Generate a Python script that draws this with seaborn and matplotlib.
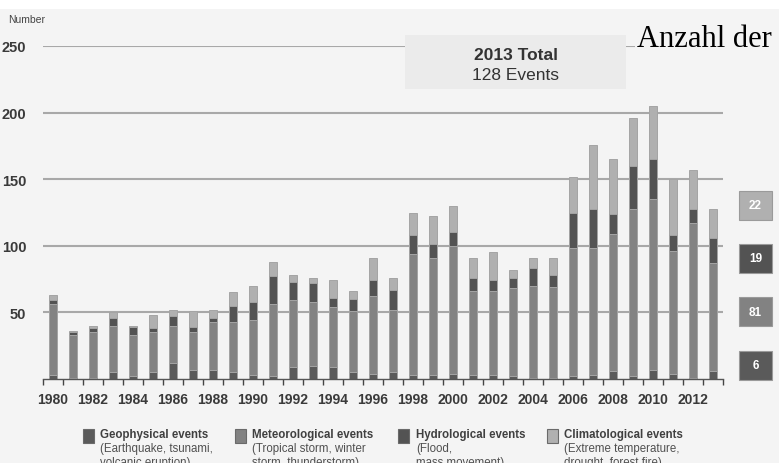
import numpy as np
import pandas as pd
import matplotlib
matplotlib.use("Agg")
import matplotlib.pyplot as plt
import seaborn as sns
from matplotlib.patches import Rectangle

# ---------------- data ----------------
years = list(range(1980, 2014))
geophysical = [3, 1, 1, 5, 2, 5, 12, 7, 7, 5,
               3, 2, 9, 10, 9, 5, 4, 5, 3, 3,
               4, 3, 3, 2, 1, 1, 2, 3, 6, 2,
               7, 4, 1, 6]
meteorological = [53, 32, 34, 35, 31, 30, 28, 28, 36, 38,
                  41, 54, 50, 48, 45, 46, 58, 47, 91, 88,
                  96, 63, 63, 66, 69, 68, 96, 95, 103, 126,
                  128, 92, 116, 81]
hydrological = [3, 2, 3, 6, 6, 3, 7, 4, 3, 12,
                14, 21, 14, 14, 7, 9, 12, 15, 14, 10,
                10, 10, 8, 8, 13, 9, 27, 30, 15, 32,
                30, 12, 11, 19]
climatological = [4, 1, 2, 4, 1, 10, 5, 12, 6, 10,
                  12, 11, 5, 4, 13, 6, 17, 9, 17, 21,
                  20, 15, 21, 6, 8, 13, 27, 48, 41, 36,
                  40, 42, 29, 22]
tick_years = [str(y) for y in range(1980, 2013, 2)]
y_ticks = [50, 100, 150, 200, 250]
box_values = ["22", "19", "81", "6"]
legend_titles = ["Geophysical events", "Meteorological events",
                 "Hydrological events", "Climatological events"]
legend_desc1 = ["(Earthquake, tsunami,", "(Tropical storm, winter",
                "(Flood,", "(Extreme temperature,"]
legend_desc2 = ["volcanic eruption)", "storm, thunderstorm)",
                "mass movement)", "drought, forest fire)"]

# ---------------- style ----------------
plt.rcParams['font.family'] = ['Liberation Sans', 'DejaVu Sans']
BG = '#f4f4f4'
c_geo = '#5a5a5a'
c_met = '#828282'
c_hyd = '#535353'
c_cli = '#b0b0b0'

W, H = 779, 464
fig = plt.figure(figsize=(W / 100, H / 100), dpi=100, facecolor=BG)


def fx(px):
    return px / W


def fy(py):
    return 1 - py / H


ax = fig.add_axes([fx(43), fy(380), fx(723) - fx(43), fy(47) - fy(380)])
ax.set_facecolor(BG)

df = pd.DataFrame({
    'year': [str(y) for y in years],
    'geo': geophysical,
    'met': meteorological,
    'hyd': hydrological,
    'cli': climatological,
})
df['s1'] = df['geo']
df['s2'] = df['s1'] + df['met']
df['s3'] = df['s2'] + df['hyd']
df['s4'] = df['s3'] + df['cli']

for col, color in [('s4', c_cli), ('s3', c_hyd), ('s2', c_met), ('s1', c_geo)]:
    sns.barplot(data=df, x='year', y=col, color=color, saturation=1,
                width=0.38, edgecolor='#a4a4a4', linewidth=0.7,
                errorbar=None, ax=ax, zorder=3)

ax.set_xlim(-0.5, 33.5)
ax.set_ylim(0, 250)
ax.set_xlabel('')
ax.set_ylabel('')

ax.set_xticks(np.arange(0, 34, 2))
ax.set_xticklabels(tick_years, fontsize=10, fontweight='bold', color='#3a3a3a')
ax.set_xticks(np.arange(-0.5, 34, 1), minor=True)
ax.tick_params(axis='x', which='major', length=0, pad=9)
ax.tick_params(axis='x', which='minor', length=4, width=1, color='#444444', direction='out')

ax.set_yticks(y_ticks)
ax.set_yticklabels([str(v) for v in y_ticks], fontsize=10.5, fontweight='bold', color='#3a3a3a')
ax.tick_params(axis='y', length=0, pad=12)
ax.yaxis.grid(True, color='#a8a8a8', linewidth=1.5)
ax.xaxis.grid(False)
ax.set_axisbelow(True)

for s in ['top', 'right', 'left']:
    ax.spines[s].set_visible(False)
ax.spines['bottom'].set_color('#555555')
ax.spines['bottom'].set_linewidth(1)
ax.spines['bottom'].set_zorder(4)

# top white strip
fig.patches.append(Rectangle((0, fy(9.5)), 1, 1 - fy(9.5), transform=fig.transFigure,
                             facecolor='white', edgecolor='none', zorder=0.5))

# "Number" label
fig.text(fx(8), fy(20), 'Number', fontsize=7.5, va='center', ha='left', color='#444444')

# 2013 total box
fig.patches.append(Rectangle((fx(405), fy(90)), fx(626) - fx(405), fy(36) - fy(90),
                             transform=fig.transFigure, facecolor='#ebebeb',
                             edgecolor='none', zorder=1))
fig.text(fx(515.5), fy(55), '2013 Total', ha='center', va='center', fontsize=12.5,
         fontweight='bold', color='#333333')
fig.text(fx(516), fy(75), '128 Events', ha='center', va='center', fontsize=12.5,
         color='#333333')

# overlapping serif text
fig.text(fx(637), fy(47), 'Anzahl der', ha='left', va='baseline', fontsize=22,
         family=['Liberation Serif', 'DejaVu Serif'], color='black',
         bbox=dict(facecolor=BG, edgecolor='none', pad=1.5))

# right-hand boxes for 2013
box_colors = [c_cli, c_hyd, c_met, c_geo]
box_tops = [192, 245, 298, 351.5]
for val, col, top in zip(box_values, box_colors, box_tops):
    fig.patches.append(Rectangle((fx(739), fy(top + 29)), fx(772) - fx(739), fy(top) - fy(top + 29),
                                 transform=fig.transFigure, facecolor=col,
                                 edgecolor='#9a9a9a', linewidth=0.8, zorder=1))
    fig.text(fx(755.5), fy(top + 14.5), val, ha='center', va='center', fontsize=8.5,
             fontweight='bold', color='white')

# legend
sq_x = [83, 235, 398, 547]
tx_x = [100, 251.5, 416, 564]
sq_cols = [c_geo, c_met, c_hyd, c_cli]
for i in range(4):
    fig.patches.append(Rectangle((fx(sq_x[i]), fy(444)), fx(sq_x[i] + 11) - fx(sq_x[i]), fy(430) - fy(444),
                                 transform=fig.transFigure, facecolor=sq_cols[i],
                                 edgecolor='#6a6a6a', linewidth=0.8, zorder=1))
    fig.text(fx(tx_x[i]), fy(435.5), legend_titles[i], ha='left', va='center', fontsize=8.3,
             fontweight='bold', color='#404040')
    fig.text(fx(tx_x[i]), fy(449.5), legend_desc1[i], ha='left', va='center', fontsize=8.3,
             color='#505050')
    fig.text(fx(tx_x[i]), fy(463.5), legend_desc2[i], ha='left', va='center', fontsize=8.3,
             color='#505050')

fig.savefig('out.png', dpi=100, facecolor=fig.get_facecolor())
